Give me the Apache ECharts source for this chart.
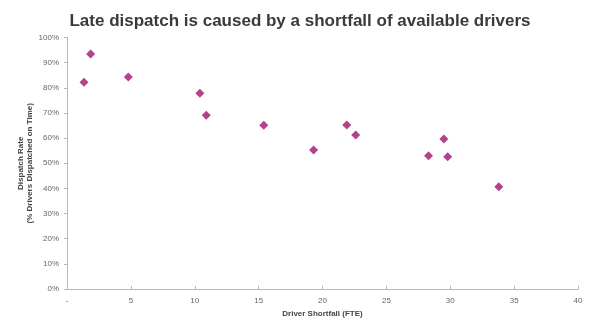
<!DOCTYPE html>
<html>
<head>
<meta charset="utf-8">
<script src="https://cdn.jsdelivr.net/npm/echarts@6/dist/echarts.min.js"></script>
<style>html,body{margin:0;padding:0;background:#fff}#c{width:600px;height:331px}</style>
</head>
<body>
<div id="c"></div>
<script>
var shortfallFTE = [1.33, 1.85, 4.8, 10.4, 10.9, 15.4, 19.3, 21.9, 22.6, 28.3, 29.5, 29.8, 33.8];
var dispatchRate = [82.2, 93.4, 84.3, 77.8, 69.1, 65.1, 55.3, 65.2, 61.2, 53.0, 59.6, 52.6, 40.7];
var xTicks = [0, 5, 10, 15, 20, 25, 30, 35, 40];
var yTicks = [0, 10, 20, 30, 40, 50, 60, 70, 80, 90, 100];

var points = shortfallFTE.map(function (x, i) { return [x, dispatchRate[i]]; });
var chart = echarts.init(document.getElementById('c'), null, { renderer: 'canvas' });
chart.setOption({
  animation: false,
  backgroundColor: '#ffffff',
  title: {
    text: 'Late dispatch is caused by a shortfall of available drivers',
    left: 'center', top: 8,
    textStyle: { fontFamily: 'Liberation Sans, Arial, sans-serif', fontSize: 17, fontWeight: 'bold', color: '#3a3a3a' }
  },
  grid: { left: 67, right: 22, top: 37.5, bottom: 42, containLabel: false },
  xAxis: {
    type: 'value', min: xTicks[0], max: xTicks[xTicks.length - 1], interval: 5,
    name: 'Driver Shortfall (FTE)', nameLocation: 'middle', nameGap: 21, nameMoveOverlap: false,
    nameTextStyle: { fontFamily: 'Liberation Sans, Arial, sans-serif', fontSize: 8, fontWeight: 'bold', color: '#444' },
    axisLine: { lineStyle: { color: '#b8b8b8', width: 1 } },
    axisTick: { show: true, inside: true, length: 3, lineStyle: { color: '#b8b8b8' } },
    splitLine: { show: false },
    axisLabel: {
      fontFamily: 'Liberation Sans, Arial, sans-serif', fontSize: 8, color: '#666', margin: 8,
      formatter: function (v) { return v === 0 ? '-' : String(v); }
    }
  },
  yAxis: {
    type: 'value', min: yTicks[0], max: yTicks[yTicks.length - 1], interval: 10,
    name: 'Dispatch Rate\n(% Drivers Dispatched on Time)', nameLocation: 'middle', nameGap: 33, nameRotate: 90,
    nameMoveOverlap: false,
    nameTextStyle: { fontFamily: 'Liberation Sans, Arial, sans-serif', fontSize: 8, fontWeight: 'bold', color: '#444', lineHeight: 9 },
    axisLine: { show: true, lineStyle: { color: '#b8b8b8', width: 1 } },
    axisTick: { show: true, length: 3, lineStyle: { color: '#b8b8b8' } },
    splitLine: { show: false },
    axisLabel: {
      fontFamily: 'Liberation Sans, Arial, sans-serif', fontSize: 8, color: '#666', margin: 8,
      formatter: function (v) { return v + '%'; }
    }
  },
  series: [{
    type: 'scatter', data: points, symbol: 'diamond', symbolSize: 9,
    itemStyle: { color: '#a3126f' }
  }]
});
</script>
</body>
</html>
